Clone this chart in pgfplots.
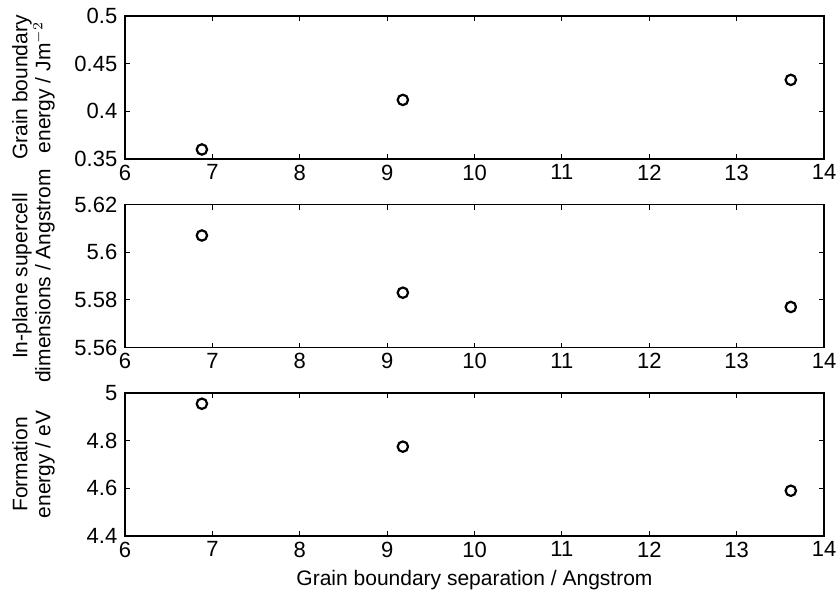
\documentclass[border=0pt]{standalone}
\usepackage{pgfplots}
\pgfplotsset{compat=1.18}
\usepackage{fontspec}
\setmainfont{Liberation Sans}
\begin{document}
\fontsize{11}{12}\selectfont
\begin{tikzpicture}
\useasboundingbox (-62.5pt,8pt) rectangle (356.5pt,-289.5pt);
\pgfplotsset{
  mystyle/.style={
    scale only axis,
    width=349.5pt, height=71.5pt,
    xmin=6, xmax=14,
    xtick={6,7,...,14},
    tick align=inside,
    major tick length=2.5pt,
    tick style={line width=0.4pt, black},
    axis line style={line width=0.7pt},
    /pgf/number format/assume math mode=true,
    ticklabel style={font=\fontsize{11}{12}\selectfont},
    label style={font=\fontsize{10.5}{11.5}\selectfont},
    xticklabel style={yshift=1pt},
    y label style={at={(axis description cs:-0.131,0.5)}, anchor=center, rotate=0, align=center},
    x label style={yshift=1pt},
    yticklabel style={/pgf/number format/fixed, /pgf/number format/precision=3},
    anchor=north west,
  },
  mypts/.style={only marks, mark=o, mark size=2.6pt, black, line width=1.1pt},
}
\begin{axis}[mystyle, at={(0,0)},
  ymin=0.35, ymax=0.5, ytick={0.35,0.4,0.45,0.5},
  ylabel={Grain boundary\\energy / Jm$^{-2}$}]
\addplot[mypts] coordinates {(6.88,0.360) (9.18,0.412) (13.62,0.433)};
\end{axis}
\begin{axis}[mystyle, at={(0,-94.25pt)},
  ymin=5.56, ymax=5.62, ytick={5.56,5.58,5.6,5.62},
  ylabel={In-plane supercell\\dimensions / Angstrom}]
\addplot[mypts] coordinates {(6.88,5.607) (9.18,5.583) (13.62,5.577)};
\end{axis}
\begin{axis}[mystyle, at={(0,-188.5pt)},
  ymin=4.4, ymax=5, ytick={4.4,4.6,4.8,5},
  ylabel={Formation\\energy / eV},
  xlabel={Grain boundary separation / Angstrom}]
\addplot[mypts] coordinates {(6.88,4.955) (9.18,4.775) (13.62,4.590)};
\end{axis}
\end{tikzpicture}
\end{document}
